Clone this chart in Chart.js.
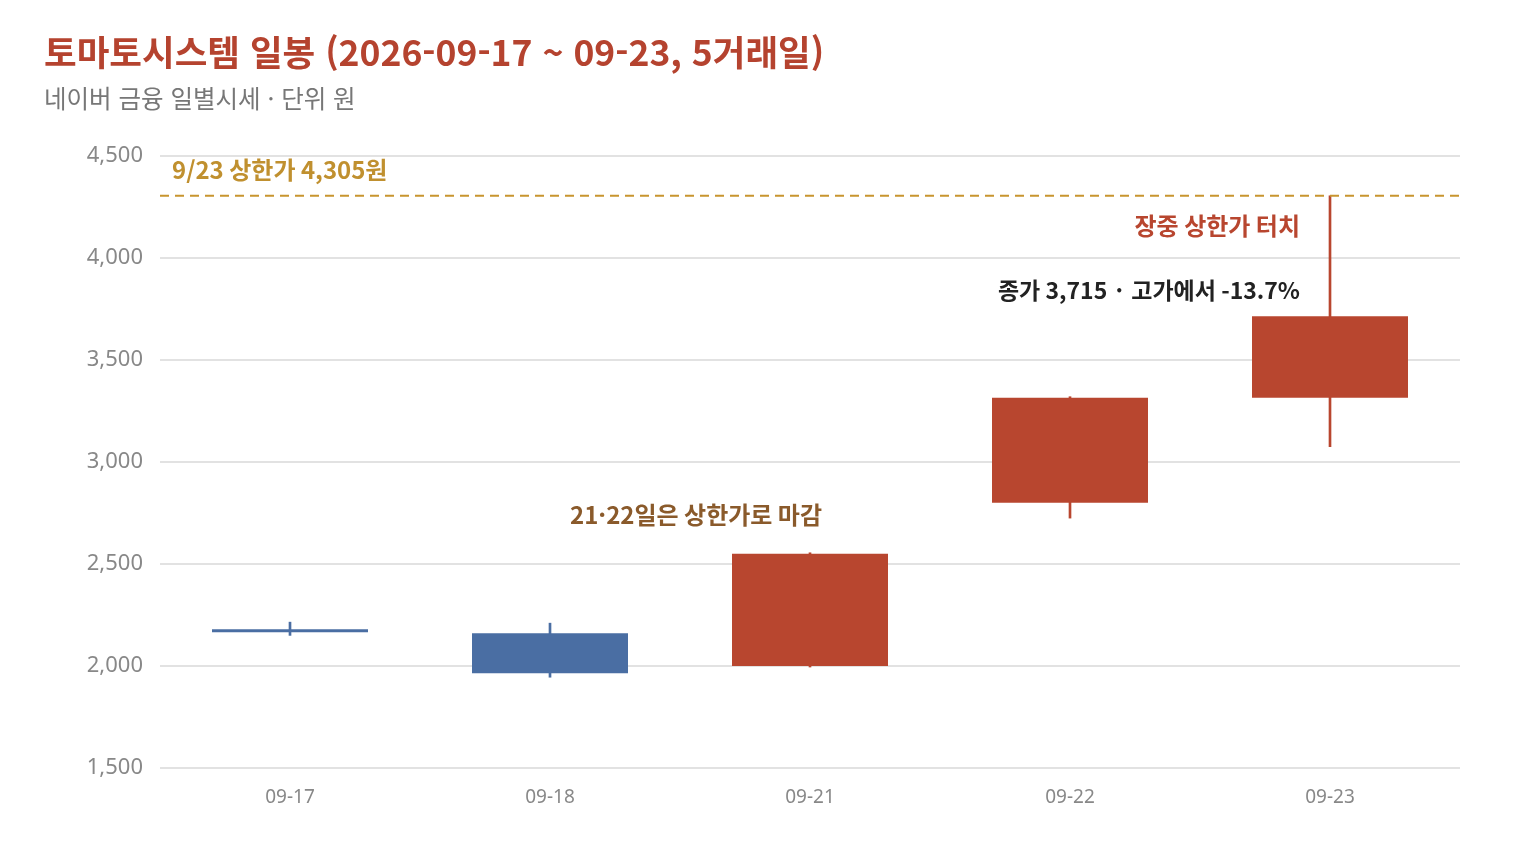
<!DOCTYPE html>
<html lang="ko">
<head>
<meta charset="utf-8">
<script src="https://cdn.jsdelivr.net/npm/chart.js@4"></script>
<style>
  html, body { margin: 0; padding: 0; background: #fff; }
  body { width: 1520px; height: 860px; position: relative; overflow: hidden;
         font-family: "Noto Sans CJK KR", "Noto Sans", sans-serif; }
  #title { position: absolute; left: 44px; top: 30px; font-size: 35.5px; font-weight: 700;
           color: #b5432f; line-height: 1.2; }
  #sub { position: absolute; left: 44px; top: 83px; font-size: 24.5px; color: #777; line-height: 1.2; }
  #wrap { position: absolute; left: 0; top: 0; width: 1520px; height: 860px; }
</style>
</head>
<body>
<div id="wrap"><canvas id="myChart" width="1520" height="860"></canvas></div>
<div id="title">토마토시스템 일봉 (2026-09-17 ~ 09-23, 5거래일)</div>
<div id="sub">네이버 금융 일별시세 · 단위 원</div>
<script>
// Daily prices (KRW)
const dates = ['09-17', '09-18', '09-21', '09-22', '09-23'];
const openPrices = [2175, 2160, 2000, 2800, 3315];
const highPrices = [2215, 2210, 2555, 3320, 4305];
const lowPrices = [2150, 1945, 1995, 2725, 3075];
const closePrices = [2165, 1965, 2550, 3315, 3715];
const yTicks = [1500, 2000, 2500, 3000, 3500, 4000, 4500];
const upperLimit = 4305;

const RED = '#b8462f';
const BLUE = '#4a6ea3';
const colors = dates.map((d, i) => closePrices[i] >= openPrices[i] ? RED : BLUE);

// Dashed limit line + text notes
const notesPlugin = {
    id: 'notes',
    afterDatasetsDraw(chart) {
        const { ctx, chartArea, scales: { x, y } } = chart;
        ctx.save();
        // upper limit line
        const ly = y.getPixelForValue(upperLimit);
        ctx.strokeStyle = '#c8952f';
        ctx.lineWidth = 2;
        ctx.setLineDash([9, 6]);
        ctx.beginPath();
        ctx.moveTo(chartArea.left, ly);
        ctx.lineTo(chartArea.right, ly);
        ctx.stroke();
        ctx.setLineDash([]);

        ctx.font = 'bold 24px "Noto Sans CJK KR", sans-serif';
        ctx.textBaseline = 'middle';
        ctx.fillStyle = '#c0902f';
        ctx.textAlign = 'left';
        ctx.fillText('9/23 상한가 4,305원', chartArea.left + 12, ly - 26);

        const x4 = x.getPixelForValue(4);
        ctx.textAlign = 'right';
        ctx.fillStyle = RED;
        ctx.fillText('장중 상한가 터치', x4 - 30, ly + 30);

        ctx.textAlign = 'center';
        ctx.fillStyle = '#8a5a2b';
        ctx.fillText('21·22일은 상한가로 마감', x.getPixelForValue(2) - 114, y.getPixelForValue(highPrices[2]) - 38);

        ctx.font = 'bold 23px "Noto Sans CJK KR", sans-serif';
        ctx.textAlign = 'right';
        ctx.fillStyle = '#222';
        ctx.fillText('종가 3,715 · 고가에서 -13.7%', x4 - 30, y.getPixelForValue(closePrices[4]) - 26);
        ctx.restore();
    }
};

const tickFont = '"Noto Sans", "Noto Sans CJK KR", sans-serif';

const ctx = document.getElementById('myChart').getContext('2d');
const myChart = new Chart(ctx, {
    type: 'bar',
    data: {
        labels: dates,
        datasets: [
            {
                label: 'wick',
                data: dates.map((d, i) => [lowPrices[i], highPrices[i]]),
                backgroundColor: colors,
                barThickness: 2,
                grouped: false,
                order: 2
            },
            {
                label: 'body',
                data: dates.map((d, i) => [openPrices[i], closePrices[i]]),
                backgroundColor: colors,
                barPercentage: 0.6,
                categoryPercentage: 1,
                grouped: false,
                minBarLength: 3,
                order: 1
            }
        ]
    },
    options: {
        responsive: false,
        animation: false,
        devicePixelRatio: 1,
        layout: { padding: { top: 156, right: 60, left: 0, bottom: 0 } },
        plugins: { legend: { display: false }, tooltip: { enabled: false } },
        scales: {
            x: {
                grid: { display: false, drawTicks: false },
                border: { display: false },
                ticks: { color: '#888', font: { size: 19, family: tickFont }, padding: 18 },
                afterFit(s) { s.height = 92; }
            },
            y: {
                min: 1500,
                max: 4500,
                afterBuildTicks(s) { s.ticks = yTicks.map(v => ({ value: v })); },
                grid: { color: '#e2e2e2', lineWidth: 2, drawTicks: false },
                border: { display: false },
                ticks: {
                    color: '#888',
                    font: { size: 22, family: tickFont },
                    padding: 17,
                    callback: v => v.toLocaleString('en-US')
                },
                afterFit(s) { s.width = 160; }
            }
        }
    },
    plugins: [notesPlugin]
});
</script>
</body>
</html>
